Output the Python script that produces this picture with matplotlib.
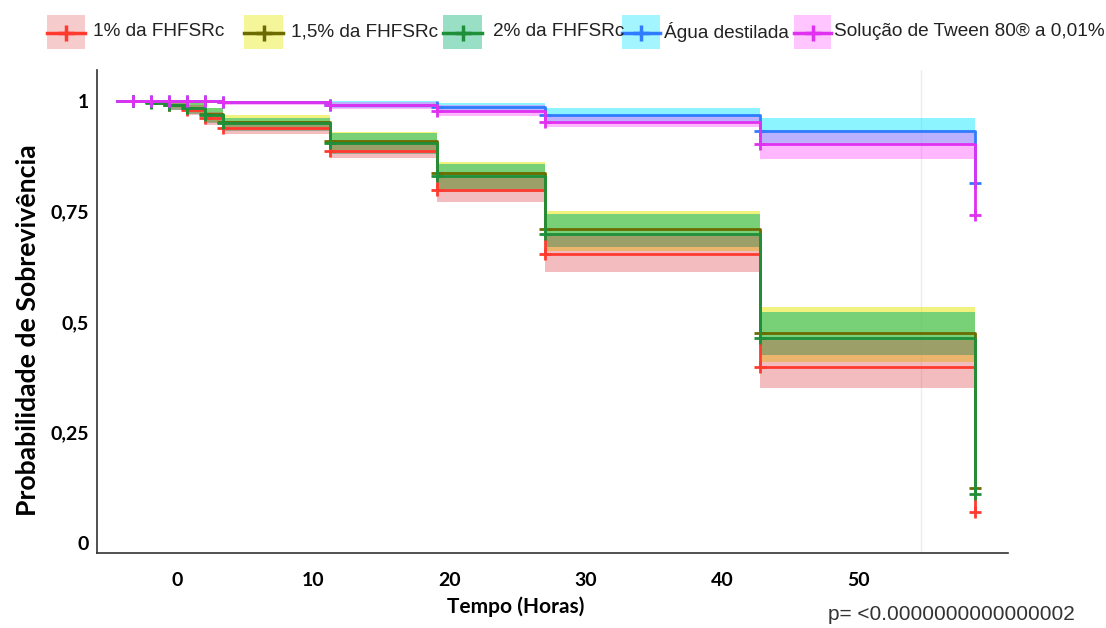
import matplotlib.pyplot as plt
from matplotlib.patches import Rectangle
from matplotlib.lines import Line2D

# Kaplan-Meier estimates per treatment group
time = [-4.4, -3.2, -1.93, -0.57, 0.76, 2.06, 3.38, 11.23, 19.09, 27.0, 42.8, 58.6]

groups = ["1% da FHFSRc", "1,5% da FHFSRc", "2% da FHFSRc",
          "Água destilada", "Solução de Tween 80® a 0,01%"]

surv_1 = [1, 1, 0.997, 0.99, 0.98, 0.961, 0.938, 0.887, 0.799, 0.654, 0.399, 0.071]
surv_15 = [1, 1, 0.997, 0.992, 0.985, 0.97, 0.952, 0.91, 0.837, 0.71, 0.474, 0.124]
surv_2 = [1, 1, 0.996, 0.991, 0.983, 0.968, 0.950, 0.906, 0.830, 0.70, 0.463, 0.112]
surv_agua = [1, 1, 1, 1, 1, 1, 0.997, 0.992, 0.987, 0.968, 0.933, 0.814]
surv_tween = [1, 1, 1, 1, 1, 1, 0.997, 0.990, 0.978, 0.953, 0.903, 0.742]

upper_1 = [1, 1, 1, 0.997, 0.99, 0.975, 0.955, 0.91, 0.83, 0.70, 0.46, 0.071]
lower_1 = [1, 1, 0.99, 0.98, 0.968, 0.945, 0.925, 0.87, 0.772, 0.613, 0.35, 0.071]
upper_15 = [1, 1, 1, 1, 0.995, 0.985, 0.968, 0.93, 0.863, 0.752, 0.535, 0.124]
lower_15 = [1, 1, 0.99, 0.983, 0.972, 0.953, 0.935, 0.885, 0.80, 0.661, 0.41, 0.124]
upper_2 = [1, 1, 1, 1, 0.995, 0.983, 0.962, 0.927, 0.857, 0.744, 0.522, 0.112]
lower_2 = [1, 1, 0.99, 0.98, 0.97, 0.95, 0.932, 0.88, 0.795, 0.67, 0.425, 0.112]
upper_agua = [1, 1, 1, 1, 1, 1, 1, 0.999, 0.995, 0.983, 0.961, 0.814]
lower_agua = [1, 1, 1, 1, 1, 1, 0.993, 0.985, 0.975, 0.95, 0.90, 0.814]
upper_tween = [1, 1, 1, 1, 1, 1, 1, 0.998, 0.992, 0.967, 0.935, 0.742]
lower_tween = [1, 1, 1, 1, 1, 1, 0.992, 0.982, 0.967, 0.94, 0.868, 0.742]

p_text = "p= <0.0000000000000002"

line_colors = ["#ff3b30", "#6b6b00", "#1f8f3a", "#2f7cff", "#e030f0"]
band_colors = ["#e04a50", "#e6e600", "#00b070", "#00e8ff", "#ff55ff"]
band_alpha = [0.36, 0.5, 0.5, 0.45, 0.42]

curves = [(surv_1, upper_1, lower_1), (surv_15, upper_15, lower_15),
          (surv_2, upper_2, lower_2), (surv_agua, upper_agua, lower_agua),
          (surv_tween, upper_tween, lower_tween)]

# yellow and green bands go down first, the red one is laid over them
band_order = [1, 2, 0, 3, 4]

bold_font = "Lato"
fig = plt.figure(figsize=(11.06, 6.28), dpi=100)
ax = fig.add_axes([0.0877, 0.1194, 0.8237, 0.7691])

ax.axvline(54.6, color="#ececec", lw=1, zorder=0)

for k, i in enumerate(band_order):
    s, up, lo = curves[i]
    ax.fill_between(time, lo, up, step="post", color=band_colors[i],
                    alpha=band_alpha[i], lw=0, zorder=1 + k * 0.1)
for i, (s, up, lo) in enumerate(curves):
    ax.step(time, s, where="post", color=line_colors[i], lw=2, zorder=3 + i)
    ax.plot(time[1:], s[1:], ls="none", marker="+", ms=9, mew=2,
            color=line_colors[i], zorder=3 + i)

ax.set_xlim(-5.87, 61.0)
ax.set_ylim(-0.0226, 1.07)
ax.set_xticks([0, 10, 20, 30, 40, 50])
ax.set_yticks([0, 0.25, 0.5, 0.75, 1])
ax.set_yticklabels(["0", "0,25", "0,5", "0,75", "1"])
ax.tick_params(length=0, pad=6)
ax.tick_params(axis="x", pad=14)
for lab in ax.get_xticklabels() + ax.get_yticklabels():
    lab.set_family(bold_font)
    lab.set_fontweight("bold")
    lab.set_fontsize(14)
for side in ["top", "right"]:
    ax.spines[side].set_visible(False)
for side in ["left", "bottom"]:
    ax.spines[side].set_color("#333333")
    ax.spines[side].set_linewidth(1.2)

ax.set_xlabel("Tempo (Horas)", family=bold_font, fontweight="bold", fontsize=15,
              labelpad=5, x=0.46)
ax.set_ylabel("Probabilidade de Sobrevivência", family=bold_font, fontweight="bold",
              fontsize=19.2, labelpad=7, y=0.462)

fig.text(0.972, 0.006, p_text, ha="right", va="bottom", family="Liberation Sans",
         fontsize=15, color="#333333")

# legend row across the top
W, H = 1106, 628
patch_x = [47, 244, 443, 622, 794]
patch_w = [38, 39, 39, 38, 37]
text_x = [93, 291, 493, 664, 834]
for i, g in enumerate(groups):
    x0 = patch_x[i] / W
    w = patch_w[i] / W
    fig.add_artist(Rectangle((x0, 1 - 49 / H), w, 34 / H, transform=fig.transFigure,
                             color=band_colors[i], alpha=band_alpha[i] * 0.8, lw=0))
    fig.add_artist(Line2D([x0, x0 + w], [1 - 33 / H] * 2, transform=fig.transFigure,
                          color=line_colors[i], lw=2.5))
    fig.add_artist(Line2D([x0 + w / 2], [1 - 33 / H], transform=fig.transFigure,
                          color=line_colors[i], marker="+", ms=11, mew=2.5))
    fig.text(text_x[i] / W, 1 - 32 / H, g, ha="left", va="center",
             family="Liberation Sans", fontsize=13.7, color="#222222")

fig.savefig("out.png", dpi=100)
